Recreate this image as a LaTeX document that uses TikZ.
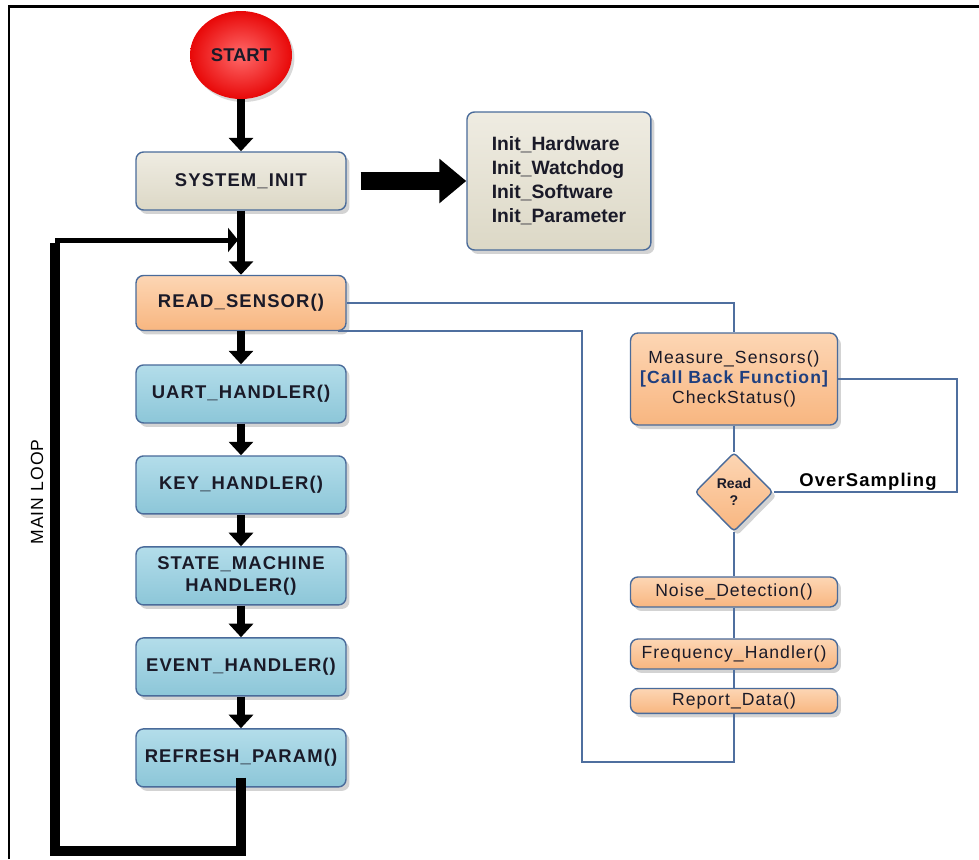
\documentclass[tikz,border=0pt]{standalone}
\usepackage{fontspec}
\setmainfont{Liberation Sans}
\newfontfamily\spacedfont[LetterSpace=6]{Liberation Sans}
\usepackage{xcolor}
\usetikzlibrary{shadows,shadings}
\usetikzlibrary{positioning, arrows.meta}
\usetikzlibrary{shapes,shapes.geometric}

\definecolor{boxline}{HTML}{4A6B9A}
\definecolor{wireblue}{HTML}{4F6F9F}
\definecolor{beigetop}{HTML}{EFECE2}
\definecolor{beigebot}{HTML}{DCD8C6}
\definecolor{bluetop}{HTML}{B3DDEA}
\definecolor{bluebot}{HTML}{8CC6D8}
\definecolor{orangetop}{HTML}{FDD6B4}
\definecolor{orangebot}{HTML}{F8B680}
\definecolor{callblue}{HTML}{1F3F7F}
\definecolor{labeltext}{HTML}{1A1A28}
\definecolor{startin}{HTML}{FF6A6A}
\definecolor{startout}{HTML}{E80808}

\tikzset{
	boxbase/.style={draw=boxline, line width=0.8pt, rounded corners=0.15cm, text=labeltext,
		drop shadow={shadow xshift=0.07cm, shadow yshift=-0.08cm, opacity=0.35}},
	beigefill/.style={top color=beigetop, bottom color=beigebot},
	bluefill/.style={top color=bluetop, bottom color=bluebot},
	orangefill/.style={top color=orangetop, bottom color=orangebot},
	mainbox/.style={boxbase, minimum width=4.2cm, minimum height=1.16cm, align=center,
		font=\spacedfont\bfseries\fontsize{10.5}{13}\selectfont},
	subbox/.style={boxbase, orangefill, minimum width=4.14cm, inner sep=1pt,
		font=\spacedfont\fontsize{10}{12}\selectfont},
	flow/.style={line width=0.16cm, -{Triangle[width=0.48cm, length=0.27cm]}},
	wire/.style={draw=wireblue, line width=0.85pt}
}

\begin{document}
\begin{tikzpicture}[x=0.02cm, y=-0.02cm, node distance=1.82cm]
		\useasboundingbox (0,0) rectangle (979,859);
		\draw[line width=0.05cm] (9,859) -- (9,6.5) -- (979,6.5);
		
		\node[mainbox, beigefill] (sysinit) at (241,181) {SYSTEM\_INIT};
		\node[ellipse, minimum width=2.04cm, minimum height=1.76cm, inner color=startin, outer color=startout,
			drop shadow={shadow xshift=0.05cm, shadow yshift=-0.06cm, opacity=0.3},
			font=\bfseries\fontsize{10.5}{12}\selectfont, text=labeltext, above of = sysinit, node distance=2.52cm] (start) {START};
		\node[boxbase, beigefill, minimum width=3.68cm, minimum height=2.76cm, align=left,
			font=\bfseries\fontsize{11}{13.6}\selectfont, right of = sysinit, node distance=6.36cm] (init)
			{Init\_Hardware\\Init\_Watchdog\\Init\_Software\\Init\_Parameter};
		\node[mainbox, orangefill, minimum height=1.1cm, below of = sysinit, node distance=2.44cm] (read) {READ\_SENSOR()};
		\node[mainbox, bluefill, below of = read] (uart) {UART\_HANDLER()};
		\node[mainbox, bluefill, below of = uart] (key) {KEY\_HANDLER()};
		\node[mainbox, bluefill, below of = key] (statem) {STATE\_MACHINE\\HANDLER()};
		\node[mainbox, bluefill, below of = statem] (event) {EVENT\_HANDLER()};
		\node[mainbox, bluefill, below of = event] (refresh) {REFRESH\_PARAM()};
		\node[rotate=90, font=\spacedfont\fontsize{10}{12}\selectfont] (looplabel) at (37,492) {MAIN LOOP};
		
		\node[boxbase, orangefill, minimum width=4.14cm, minimum height=1.84cm, align=center,
			font=\spacedfont\fontsize{10}{11.5}\selectfont] (measure) at (734,379)
			{Measure\_Sensors()\\{\bfseries\color{callblue}[Call Back Function]}\\CheckStatus()};
		\node[diamond, boxbase, orangefill, rounded corners=2pt, minimum width=1.56cm, minimum height=1.58cm, inner sep=0pt,
			align=center, font=\bfseries\fontsize{8}{10}\selectfont, below of = measure, node distance=2.26cm] (readq) {Read\\?};
		\node[subbox, minimum height=0.6cm, below of = readq, node distance=2cm] (noise) {Noise\_Detection()};
		\node[subbox, minimum height=0.6cm, below of = noise, node distance=1.24cm] (freq) {Frequency\_Handler()};
		\node[subbox, minimum height=0.5cm, below of = freq, node distance=0.94cm] (report) {Report\_Data()};
		\node[font=\spacedfont\bfseries\fontsize{10.5}{12}\selectfont] (oslabel) at (868,482) {OverSampling};
		
		\coordinate (loopbottom) at (55,851);
		\coordinate (loopcorner) at (55,240);
		\coordinate (sidebottom) at (582,762);
		\coordinate (overcorner) at (957,379);
		
		\draw[flow] (start) -- (sysinit);
		\draw[flow] (sysinit) -- (read);
		\draw[flow] (read) -- (uart);
		\draw[flow] (uart) -- (key);
		\draw[flow] (key) -- (statem);
		\draw[flow] (statem) -- (event);
		\draw[flow] (event) -- (refresh);
		\draw[line width=0.36cm, -{Triangle[width=0.86cm, length=0.54cm]}, shorten <=0.28cm] (sysinit.east) -- (init.west);
		\draw[line width=0.2cm] ([yshift=0.2cm]refresh.south) |- (loopbottom) -- ([yshift=-0.05cm]loopcorner);
		\draw[line width=0.1cm, -{Triangle[width=0.48cm, length=0.2cm]}, shorten >=0.06cm] (loopcorner) -- (loopcorner -| read.north);
		
		\draw[wire] (read.east) -| (measure.north);
		\draw[wire] ([xshift=-0.18cm]read.south east) -| (sidebottom) -| (report.south);
		\draw[wire] (measure) -- (readq);
		\draw[wire] (readq) -- (noise);
		\draw[wire] (noise) -- (freq);
		\draw[wire] (freq) -- (report);
		\draw[wire] (measure.east) -- (overcorner) |- (readq.east);
		
\end{tikzpicture}
\end{document}
